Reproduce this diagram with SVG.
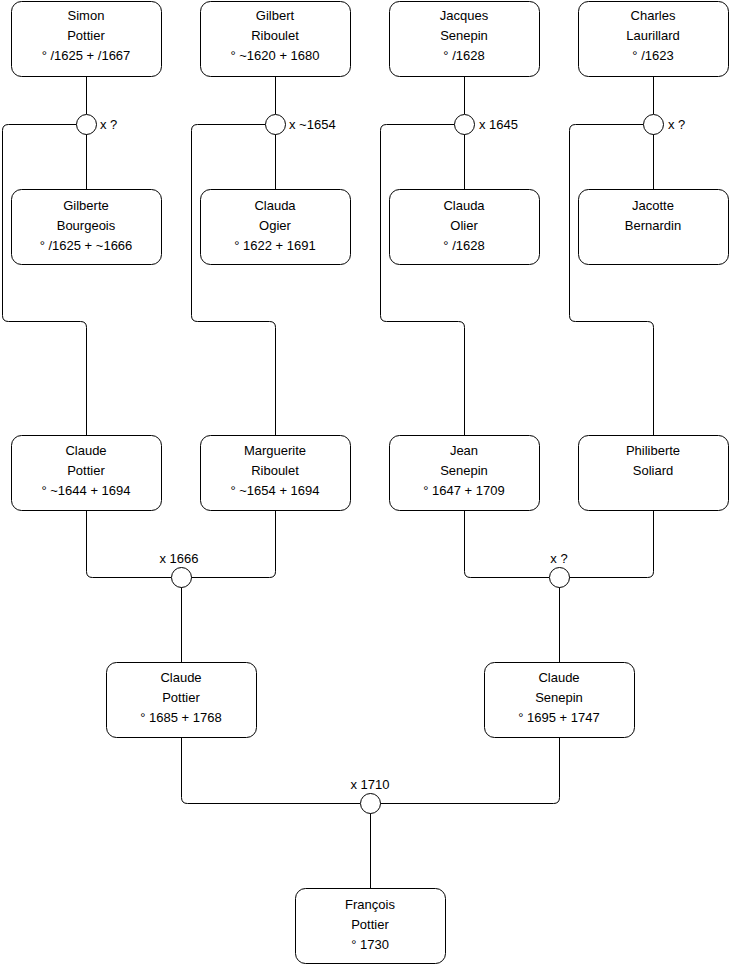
<svg xmlns="http://www.w3.org/2000/svg" width="740" height="975" viewBox="0 0 740 975">
<style>
.box{fill:#fff;stroke:#000;stroke-width:1}
.t{font-family:"Liberation Sans",Arial,sans-serif;font-size:13px;fill:#000;text-anchor:middle}
.l{font-family:"Liberation Sans",Arial,sans-serif;font-size:13px;fill:#000}
.c{fill:none;stroke:#000;stroke-width:1}
.j{fill:#fff;stroke:#000;stroke-width:1}
</style>
<rect width="740" height="975" fill="#fff"/>
<g id="connectors">
<path class="c" d="M86.5,76 V114 M86.5,134 V189"/>
<path class="c" d="M76.5,124.5 H8.5 Q2.5,124.5 2.5,130.5 V315.5 Q2.5,321.5 8.5,321.5 H80.5 Q86.5,321.5 86.5,327.5 V435"/>
<path class="c" d="M275.5,76 V114 M275.5,134 V189"/>
<path class="c" d="M265.5,124.5 H197.5 Q191.5,124.5 191.5,130.5 V315.5 Q191.5,321.5 197.5,321.5 H269.5 Q275.5,321.5 275.5,327.5 V435"/>
<path class="c" d="M464.5,76 V114 M464.5,134 V189"/>
<path class="c" d="M454.5,124.5 H386.5 Q380.5,124.5 380.5,130.5 V315.5 Q380.5,321.5 386.5,321.5 H458.5 Q464.5,321.5 464.5,327.5 V435"/>
<path class="c" d="M653.5,76 V114 M653.5,134 V189"/>
<path class="c" d="M643.5,124.5 H575.5 Q569.5,124.5 569.5,130.5 V315.5 Q569.5,321.5 575.5,321.5 H647.5 Q653.5,321.5 653.5,327.5 V435"/>
<path class="c" d="M86.5,510 V571.5 Q86.5,577.5 92.5,577.5 H171"/>
<path class="c" d="M275.5,510 V571.5 Q275.5,577.5 269.5,577.5 H191"/>
<path class="c" d="M181.5,587 V662"/>
<path class="c" d="M464.5,510 V571.5 Q464.5,577.5 470.5,577.5 H549"/>
<path class="c" d="M653.5,510 V571.5 Q653.5,577.5 647.5,577.5 H569"/>
<path class="c" d="M559.5,587 V662"/>
<path class="c" d="M181.5,737 V797.5 Q181.5,803.5 187.5,803.5 H360"/>
<path class="c" d="M559.5,737 V797.5 Q559.5,803.5 553.5,803.5 H380"/>
<path class="c" d="M370.5,813 V888"/>
</g>
<g id="u1"><circle class="j" cx="86.5" cy="124.5" r="10"/><text class="l" x="100" y="129">x ?</text></g>
<g id="u2"><circle class="j" cx="275.5" cy="124.5" r="10"/><text class="l" x="289" y="129">x ~1654</text></g>
<g id="u3"><circle class="j" cx="464.5" cy="124.5" r="10"/><text class="l" x="479" y="129">x 1645</text></g>
<g id="u4"><circle class="j" cx="653.5" cy="124.5" r="10"/><text class="l" x="668" y="129">x ?</text></g>
<g id="u5"><circle class="j" cx="181.5" cy="577.5" r="10"/><text class="t" x="179" y="563">x 1666</text></g>
<g id="u6"><circle class="j" cx="559.5" cy="577.5" r="10"/><text class="t" x="559" y="563">x ?</text></g>
<g id="u7"><circle class="j" cx="370.5" cy="803.5" r="10"/><text class="t" x="370" y="789">x 1710</text></g>
<g id="n1"><rect class="box" x="11.5" y="1.5" width="150" height="75" rx="10"/><text class="t" x="86" y="20">Simon</text><text class="t" x="86" y="40">Pottier</text><text class="t" x="86" y="60">° /1625 + /1667</text></g>
<g id="n2"><rect class="box" x="200.5" y="1.5" width="150" height="75" rx="10"/><text class="t" x="275" y="20">Gilbert</text><text class="t" x="275" y="40">Riboulet</text><text class="t" x="275" y="60">° ~1620 + 1680</text></g>
<g id="n3"><rect class="box" x="389.5" y="1.5" width="150" height="75" rx="10"/><text class="t" x="464" y="20">Jacques</text><text class="t" x="464" y="40">Senepin</text><text class="t" x="464" y="60">° /1628</text></g>
<g id="n4"><rect class="box" x="578.5" y="1.5" width="150" height="75" rx="10"/><text class="t" x="653" y="20">Charles</text><text class="t" x="653" y="40">Laurillard</text><text class="t" x="653" y="60">° /1623</text></g>
<g id="n5"><rect class="box" x="11.5" y="189.5" width="150" height="75" rx="10"/><text class="t" x="86" y="210">Gilberte</text><text class="t" x="86" y="230">Bourgeois</text><text class="t" x="86" y="250">° /1625 + ~1666</text></g>
<g id="n6"><rect class="box" x="200.5" y="189.5" width="150" height="75" rx="10"/><text class="t" x="275" y="210">Clauda</text><text class="t" x="275" y="230">Ogier</text><text class="t" x="275" y="250">° 1622 + 1691</text></g>
<g id="n7"><rect class="box" x="389.5" y="189.5" width="150" height="75" rx="10"/><text class="t" x="464" y="210">Clauda</text><text class="t" x="464" y="230">Olier</text><text class="t" x="464" y="250">° /1628</text></g>
<g id="n8"><rect class="box" x="578.5" y="189.5" width="150" height="75" rx="10"/><text class="t" x="653" y="210">Jacotte</text><text class="t" x="653" y="230">Bernardin</text></g>
<g id="n9"><rect class="box" x="11.5" y="435.5" width="150" height="75" rx="10"/><text class="t" x="86" y="455">Claude</text><text class="t" x="86" y="475">Pottier</text><text class="t" x="86" y="495">° ~1644 + 1694</text></g>
<g id="n10"><rect class="box" x="200.5" y="435.5" width="150" height="75" rx="10"/><text class="t" x="275" y="455">Marguerite</text><text class="t" x="275" y="475">Riboulet</text><text class="t" x="275" y="495">° ~1654 + 1694</text></g>
<g id="n11"><rect class="box" x="389.5" y="435.5" width="150" height="75" rx="10"/><text class="t" x="464" y="455">Jean</text><text class="t" x="464" y="475">Senepin</text><text class="t" x="464" y="495">° 1647 + 1709</text></g>
<g id="n12"><rect class="box" x="578.5" y="435.5" width="150" height="75" rx="10"/><text class="t" x="653" y="455">Philiberte</text><text class="t" x="653" y="475">Soliard</text></g>
<g id="n13"><rect class="box" x="106.5" y="662.5" width="150" height="75" rx="10"/><text class="t" x="181" y="682">Claude</text><text class="t" x="181" y="702">Pottier</text><text class="t" x="181" y="722">° 1685 + 1768</text></g>
<g id="n14"><rect class="box" x="484.5" y="662.5" width="150" height="75" rx="10"/><text class="t" x="559" y="682">Claude</text><text class="t" x="559" y="702">Senepin</text><text class="t" x="559" y="722">° 1695 + 1747</text></g>
<g id="n15"><rect class="box" x="295.5" y="888.5" width="150" height="75" rx="10"/><text class="t" x="370" y="909">François</text><text class="t" x="370" y="929">Pottier</text><text class="t" x="370" y="949">° 1730</text></g>
</svg>
